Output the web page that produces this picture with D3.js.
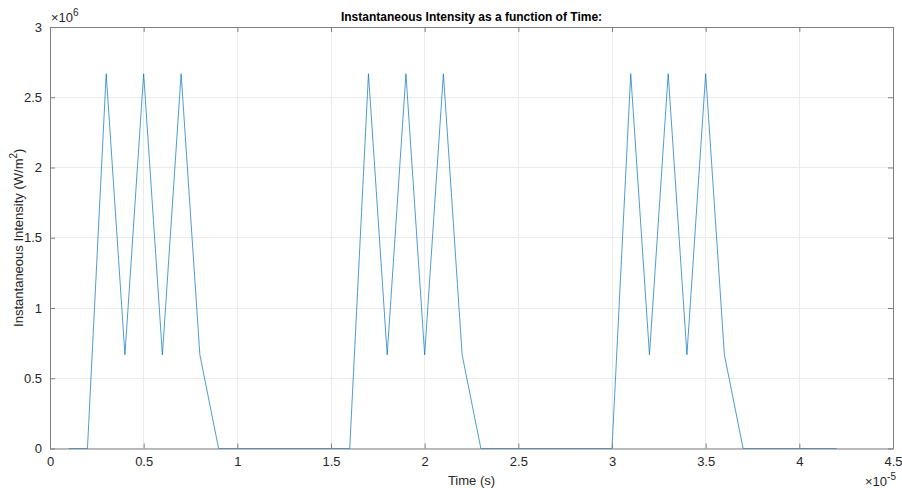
<!DOCTYPE html>
<html><head><meta charset="utf-8">
<script src="https://cdn.jsdelivr.net/npm/d3@7"></script>
<style>body{margin:0;background:#fff;}svg{display:block;font-family:"Liberation Sans",Arial,Helvetica,sans-serif;}</style>
</head><body>
<svg id="c" width="902" height="488"></svg>
<script>
// time in units of 1e-5 s
const times = [0.1,0.2,0.3,0.4,0.5,0.6,0.7,0.8,0.9,1.0,1.1,1.2,1.3,1.4,1.5,1.6,1.7,1.8,1.9,2.0,2.1,2.2,2.3,2.4,2.5,2.6,2.7,2.8,2.9,3.0,3.1,3.2,3.3,3.4,3.5,3.6,3.7,3.8,3.9,4.0,4.1,4.2];
// intensity in units of 1e6 W/m^2
const intensity = [0,0,2.667,0.667,2.667,0.667,2.667,0.667,0,0,0,0,0,0,0,0,2.667,0.667,2.667,0.667,2.667,0.667,0,0,0,0,0,0,0,0,2.667,0.667,2.667,0.667,2.667,0.667,0,0,0,0,0,0];
const xTicks = [0,0.5,1,1.5,2,2.5,3,3.5,4,4.5];
const yTicks = [0,0.5,1,1.5,2,2.5,3];

const svg = d3.select("#c");
const L=50, R=893, T=27, B=448.5;
const x = d3.scaleLinear().domain([0,4.5]).range([L,R]);
const y = d3.scaleLinear().domain([0,3]).range([B,T]);
const axisCol = "#262626";

// grid
svg.append("g").selectAll("line").data(xTicks).join("line")
  .attr("x1",d=>x(d)).attr("x2",d=>x(d)).attr("y1",T).attr("y2",B)
  .attr("stroke","#ebebeb").attr("stroke-width",1).attr("shape-rendering","crispEdges");
svg.append("g").selectAll("line").data(yTicks).join("line")
  .attr("y1",d=>y(d)).attr("y2",d=>y(d)).attr("x1",L).attr("x2",R)
  .attr("stroke","#ebebeb").attr("stroke-width",1).attr("shape-rendering","crispEdges");

// line
const line = d3.line().x((d,i)=>x(times[i])).y(d=>y(d));
svg.append("path").datum(intensity).attr("d",line)
  .attr("fill","none").attr("stroke","#0072BD").attr("stroke-width",0.7);

// axes (ticks inward, box)
const fmt = d=>String(d);
const gB = svg.append("g").attr("transform",`translate(0,${B})`)
  .call(d3.axisBottom(x).tickValues(xTicks).tickFormat(fmt).tickSizeInner(-5).tickSizeOuter(0).tickPadding(8));
const gT = svg.append("g").attr("transform",`translate(0,${T})`)
  .call(d3.axisTop(x).tickValues(xTicks).tickFormat("").tickSizeInner(-5).tickSizeOuter(0));
const gL = svg.append("g").attr("transform",`translate(${L},0)`)
  .call(d3.axisLeft(y).tickValues(yTicks).tickFormat(fmt).tickSizeInner(-5).tickSizeOuter(0).tickPadding(8));
const gR = svg.append("g").attr("transform",`translate(${R},0)`)
  .call(d3.axisRight(y).tickValues(yTicks).tickFormat("").tickSizeInner(-5).tickSizeOuter(0));
[gB,gT,gL,gR].forEach(g=>{
  g.select(".domain").attr("stroke","#808080").attr("stroke-width",1);
  g.selectAll(".tick line").attr("stroke","#808080");
  g.selectAll("text").attr("fill",axisCol).style("font-size","13px");
});

// exponent labels
const e1 = svg.append("text").attr("x",L+1).attr("y",T-5).attr("fill",axisCol).style("font-size","13px");
e1.append("tspan").text("\u00d710");
e1.append("tspan").attr("dy",-6).style("font-size","10px").text("6");
const e2 = svg.append("text").attr("x",R-28).attr("y",486).attr("fill",axisCol).style("font-size","13px");
e2.append("tspan").text("\u00d710");
e2.append("tspan").attr("dy",-6).style("font-size","10px").text("-5");

// title
svg.append("text").attr("x",(L+R)/2).attr("y",21).attr("text-anchor","middle")
  .style("font-size","12px").style("font-weight","bold").attr("fill","#000")
  .text("Instantaneous Intensity as a function of Time:");

// axis labels
svg.append("text").attr("x",(L+R)/2).attr("y",485).attr("text-anchor","middle")
  .style("font-size","13px").attr("fill",axisCol).text("Time (s)");
const yl = svg.append("text").attr("transform",`translate(23,${(T+B)/2}) rotate(-90)`)
  .attr("text-anchor","middle").style("font-size","13px").attr("fill",axisCol);
yl.append("tspan").text("Instantaneous Intensity (W/m");
yl.append("tspan").attr("dy",-6).style("font-size","10px").text("2");
yl.append("tspan").attr("dy",6).text(")");
</script>
</body></html>
